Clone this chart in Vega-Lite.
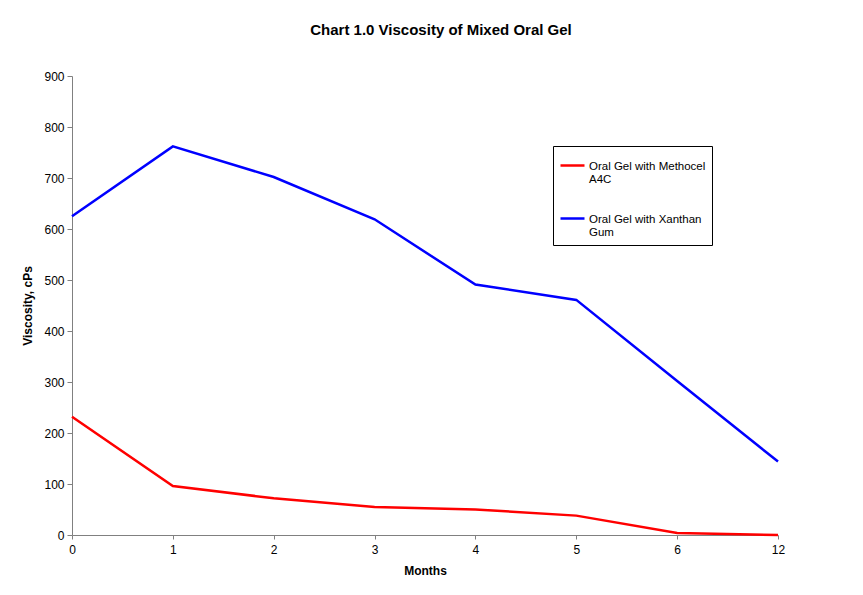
{
  "$schema": "https://vega.github.io/schema/vega-lite/v6.json",
  "width": 706,
  "height": 459,
  "autosize": {"type": "none"},
  "padding": {"left": 72, "top": 76, "right": 85, "bottom": 60},
  "background": "white",
  "title": {
    "text": "Chart 1.0 Viscosity of Mixed Oral Gel",
    "font": "Liberation Sans",
    "fontSize": 15,
    "fontWeight": "bold",
    "color": "#000000",
    "anchor": "middle",
    "dx": 16,
    "offset": 32
  },
  "data": {
    "values": [
      {"month": "0", "series": "Oral Gel with Methocel A4C", "viscosity": 232},
      {"month": "1", "series": "Oral Gel with Methocel A4C", "viscosity": 96},
      {"month": "2", "series": "Oral Gel with Methocel A4C", "viscosity": 72},
      {"month": "3", "series": "Oral Gel with Methocel A4C", "viscosity": 55},
      {"month": "4", "series": "Oral Gel with Methocel A4C", "viscosity": 50},
      {"month": "5", "series": "Oral Gel with Methocel A4C", "viscosity": 38},
      {"month": "6", "series": "Oral Gel with Methocel A4C", "viscosity": 4},
      {"month": "12", "series": "Oral Gel with Methocel A4C", "viscosity": 0},
      {"month": "0", "series": "Oral Gel with Xanthan Gum", "viscosity": 625},
      {"month": "1", "series": "Oral Gel with Xanthan Gum", "viscosity": 762},
      {"month": "2", "series": "Oral Gel with Xanthan Gum", "viscosity": 702},
      {"month": "3", "series": "Oral Gel with Xanthan Gum", "viscosity": 619},
      {"month": "4", "series": "Oral Gel with Xanthan Gum", "viscosity": 491},
      {"month": "5", "series": "Oral Gel with Xanthan Gum", "viscosity": 461},
      {"month": "6", "series": "Oral Gel with Xanthan Gum", "viscosity": 302},
      {"month": "12", "series": "Oral Gel with Xanthan Gum", "viscosity": 144}
    ]
  },
  "mark": {"type": "line", "strokeWidth": 2.5},
  "encoding": {
    "x": {
      "field": "month",
      "type": "ordinal",
      "sort": ["0", "1", "2", "3", "4", "5", "6", "12"],
      "scale": {"type": "point", "padding": 0},
      "title": "Months",
      "axis": {
        "labelAngle": 0,
        "domainColor": "#808080",
        "tickColor": "#808080",
        "tickSize": 4,
        "labelPadding": 5,
        "labelColor": "#000000",
        "labelFont": "Liberation Sans",
        "labelFontSize": 12,
        "titleFont": "Liberation Sans",
        "titleFontSize": 12,
        "titleFontWeight": "bold",
        "titleColor": "#000000",
        "titlePadding": 10
      }
    },
    "y": {
      "field": "viscosity",
      "type": "quantitative",
      "scale": {"domain": [0, 900], "nice": false},
      "title": "Viscosity, cPs",
      "axis": {
        "values": [0, 100, 200, 300, 400, 500, 600, 700, 800, 900],
        "grid": false,
        "domainColor": "#808080",
        "tickColor": "#808080",
        "tickSize": 5,
        "labelPadding": 3,
        "labelColor": "#000000",
        "labelFont": "Liberation Sans",
        "labelFontSize": 12,
        "titleFont": "Liberation Sans",
        "titleFontSize": 12,
        "titleFontWeight": "bold",
        "titleColor": "#000000",
        "titlePadding": 9
      }
    },
    "color": {
      "field": "series",
      "type": "nominal",
      "scale": {
        "domain": ["Oral Gel with Methocel A4C", "Oral Gel with Xanthan Gum"],
        "range": ["#FF0000", "#0000FF"]
      },
      "legend": {
        "title": null,
        "orient": "none",
        "legendX": 481,
        "legendY": 70,
        "strokeColor": "#000000",
        "fillColor": "white",
        "padding": 6,
        "symbolType": "stroke",
        "symbolSize": 576,
        "symbolStrokeWidth": 2.5,
        "labelOffset": 3,
        "labelFont": "Liberation Sans",
        "labelFontSize": 11.5,
        "labelColor": "#000000",
        "labelBaseline": "middle",
        "rowPadding": 19,
        "labelExpr": "datum.label == 'Oral Gel with Methocel A4C' ? ['Oral Gel with Methocel\u2003\u2003', 'A4C'] : ['Oral Gel with Xanthan', 'Gum']",
        "encode": {"labels": {"update": {"dy": {"value": 1}}}}
      }
    }
  },
  "config": {
    "view": {"stroke": null}
  }
}
